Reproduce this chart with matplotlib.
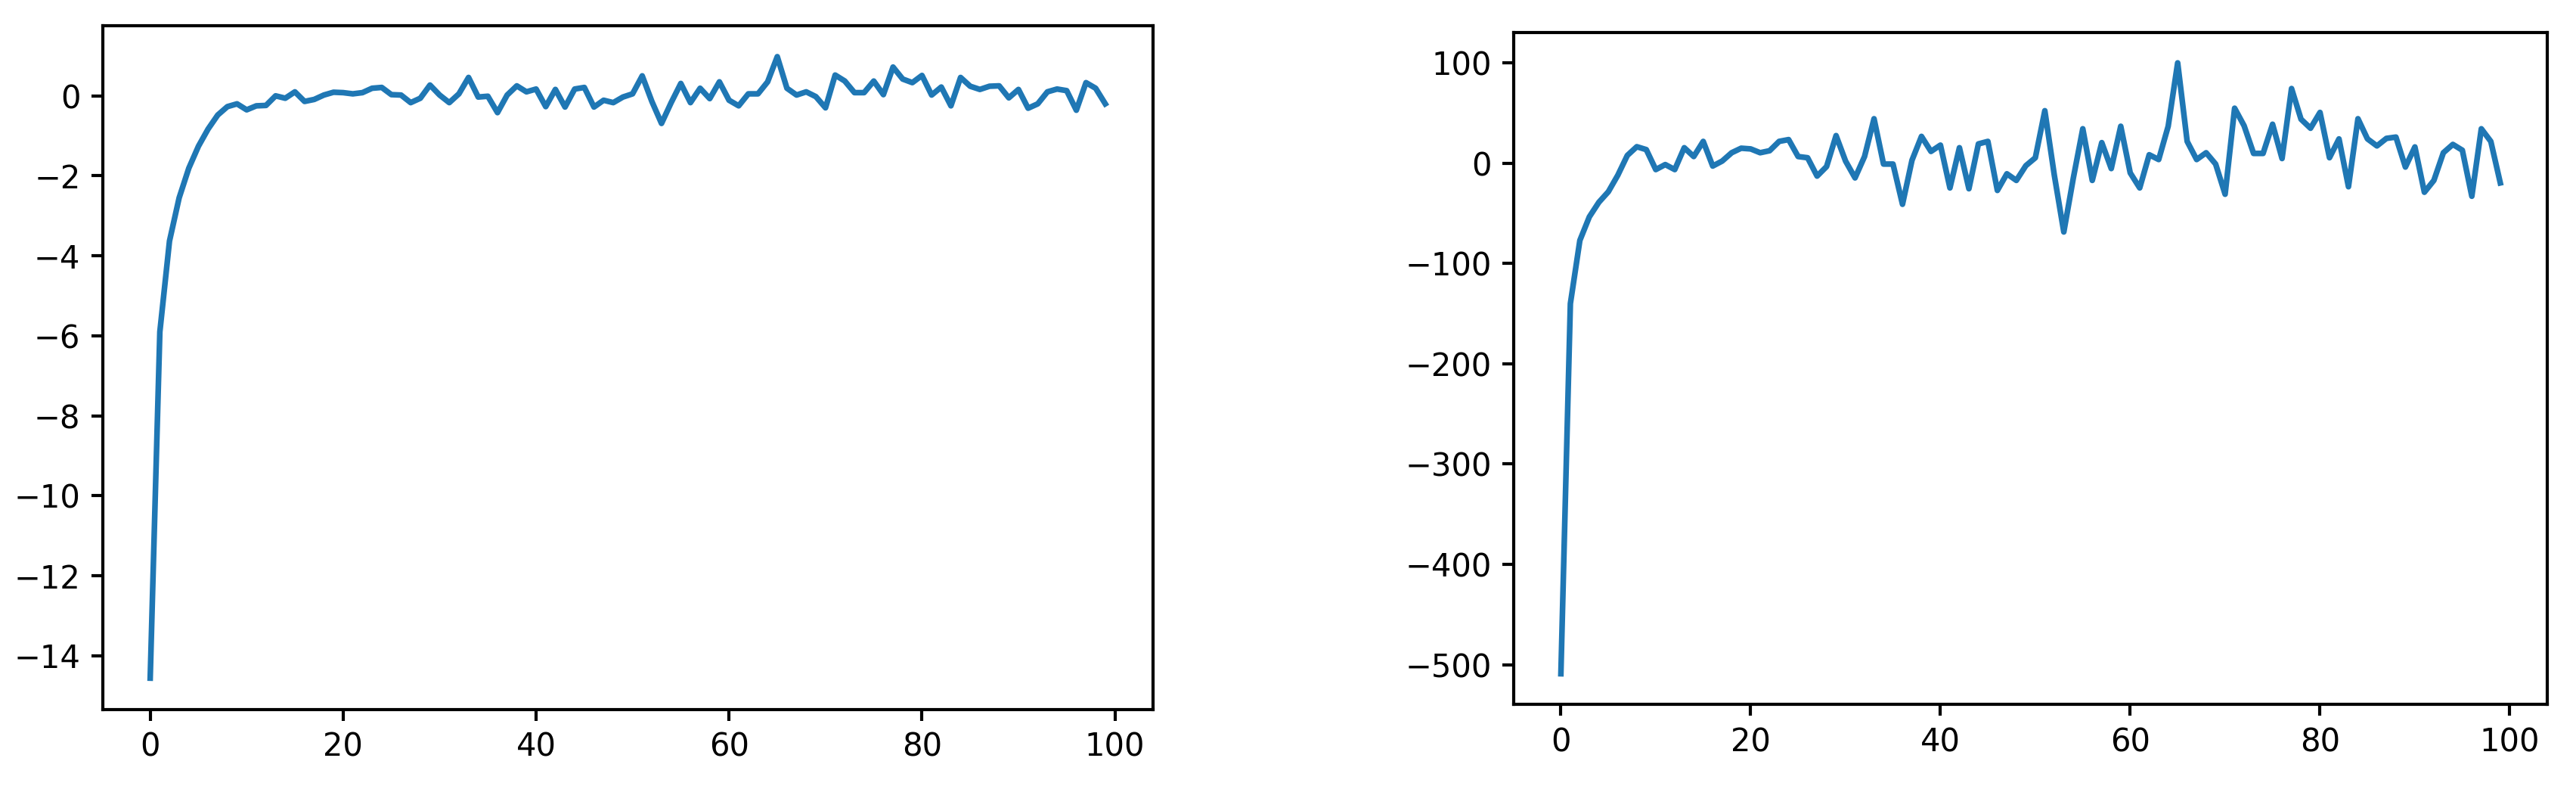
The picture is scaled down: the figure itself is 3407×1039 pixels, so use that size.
import matplotlib
matplotlib.use("Agg")
import matplotlib.pyplot as plt
import numpy as np

steps = list(range(100))

left_values = [
    -14.56, -5.9, -3.63, -2.55, -1.81, -1.26, -0.83, -0.48, -0.27, -0.2,
    -0.35, -0.25, -0.24, 0.0, -0.06, 0.1, -0.14, -0.09, 0.02, 0.09,
    0.08, 0.05, 0.08, 0.19, 0.21, 0.03, 0.02, -0.17, -0.06, 0.27,
    0.02, -0.17, 0.05, 0.46, -0.03, -0.01, -0.42, 0.02, 0.25, 0.1,
    0.17, -0.27, 0.16, -0.28, 0.17, 0.21, -0.28, -0.11, -0.17, -0.03,
    0.05, 0.5, -0.14, -0.69, -0.17, 0.31, -0.17, 0.19, -0.07, 0.35,
    -0.11, -0.25, 0.05, 0.05, 0.35, 0.98, 0.19, 0.02, 0.1, -0.02,
    -0.3, 0.52, 0.37, 0.08, 0.08, 0.37, 0.03, 0.72, 0.42, 0.33,
    0.51, 0.02, 0.22, -0.25, 0.46, 0.24, 0.16, 0.24, 0.25, -0.05,
    0.16, -0.31, -0.2, 0.1, 0.17, 0.13, -0.36, 0.33, 0.19, -0.2,
]

right_values = [
    -509, -140, -77, -53.5, -39, -28.5, -12, 7.7, 16.4, 13.5,
    -6.4, -1.4, -6.4, 15.4, 6.6, 21.7, -2.9, 2.1, 10.4, 14.9,
    14.2, 10.4, 12.4, 21.7, 23.5, 6.6, 5.4, -12.9, -3.4, 27.5,
    2.1, -14.7, 6.6, 44.3, -0.9, -0.9, -41, 2.9, 26.7, 11.7,
    18, -24.7, 15.4, -25.5, 19.2, 21.7, -27.2, -10.6, -17.2, -2.5,
    5.4, 52.3, -12, -68.6, -15, 34.3, -17.2, 20.5, -5.4, 36.8,
    -9.7, -24.7, 8.4, 3.6, 36.8, 100, 21.7, 3.6, 10.4, -0.9,
    -31, 54.8, 37.3, 9.7, 9.7, 38.8, 4.6, 74.4, 43.8, 34.8,
    50.6, 5.4, 24.2, -23.5, 44.3, 24.2, 17.2, 24.7, 26, -3.9,
    16.2, -29, -17.2, 10.4, 18.7, 12.9, -33, 34.3, 21.7, -19.7,
]

plt.rcParams["axes.linewidth"] = 1.0
plt.rcParams["xtick.major.width"] = 1.0
plt.rcParams["ytick.major.width"] = 1.0

W, H = 3407, 1039
DPI = 300
fig = plt.figure(figsize=(W / DPI, H / DPI), dpi=DPI)

def px_axes(left, right, top, bottom):
    return fig.add_axes([left / W, (H - bottom) / H, (right - left) / W, (bottom - top) / H])

ax1 = px_axes(135.5, 1525, 33.8, 937.5)
ax2 = px_axes(2002.3, 3369, 42.7, 931)

ax1.plot(steps, left_values, color="#1f77b4", linewidth=1.8)
ax2.plot(steps, right_values, color="#1f77b4", linewidth=1.8)

for ax in (ax1, ax2):
    ax.set_xticks([0, 20, 40, 60, 80, 100])

fig.savefig("out.png", dpi=DPI)
